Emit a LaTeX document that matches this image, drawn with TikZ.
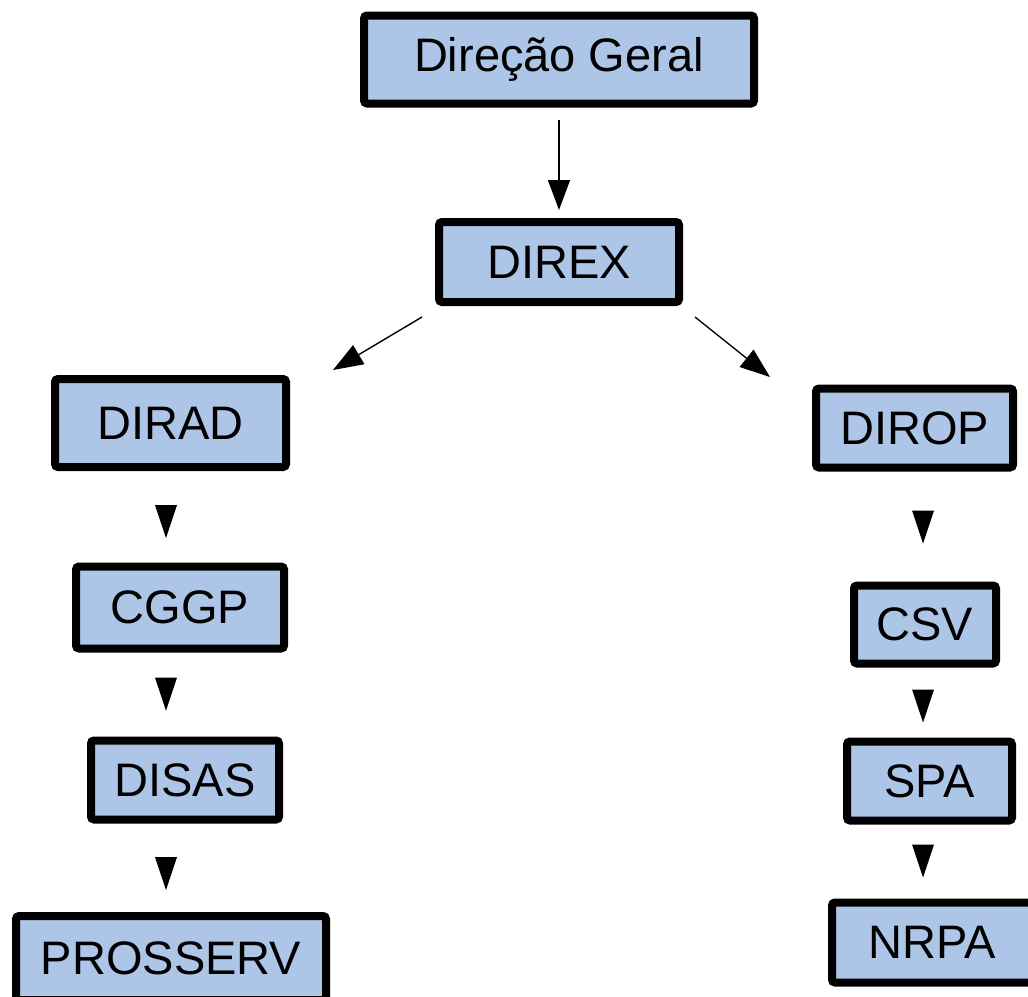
\documentclass[tikz,border=0pt]{standalone}
\usepackage{fontspec}
\setmainfont{Liberation Sans}
\usetikzlibrary{arrows.meta,calc}
\definecolor{boxfill}{HTML}{ADC6E8}
\tikzset{
  orgbox/.style={draw=black, line width=4pt, fill=boxfill, rounded corners=1.5pt,
    inner sep=0pt, font=\fontsize{23.5}{28}\selectfont, text=black},
  boxsize/.style 2 args={minimum width=#1*0.5pt, minimum height=#2*0.5pt},
  conn/.style={line width=0.7pt, -{Triangle[length=15pt,width=11pt]}},
}
\newcommand{\downtri}[1]{\fill[black] ($(#1)+(-11,-16.5)$) -- ++(22,0) -- ++(-11,33) -- cycle;}
\begin{document}
\begin{tikzpicture}[x=0.5pt,y=-0.5pt]
\useasboundingbox (0,0) rectangle (1028,996);
\clip (0,0) rectangle (1028,996);
\node[orgbox, boxsize={390}{88}] (dg) at (559,59.5) {Direção Geral};
\node[orgbox, boxsize={240}{80}] (direx) at (559,262) {DIREX};
\node[orgbox, boxsize={231}{88}] (dirad) at (170.5,423) {DIRAD};
\node[orgbox, boxsize={197}{79}] (dirop) at (914.5,428) {DIROP};
\node[orgbox, boxsize={208}{82}] (cggp) at (180,607.5) {CGGP};
\node[orgbox, boxsize={142}{78}] (csv) at (925,624.5) {CSV};
\node[orgbox, boxsize={188}{79}] (disas) at (185,780) {DISAS};
\node[orgbox, boxsize={165}{79}] (spa) at (929.5,781) {SPA};
\node[orgbox, boxsize={310}{84}] (prosserv) at (171,958) {PROSSERV};
\node[orgbox, boxsize={200}{80}] (nrpa) at (932,942.5) {NRPA};
% connectors
\draw[conn, shorten <=6pt, shorten >=4pt] (dg.south) -- (direx.north);
\coordinate (lstart) at (422,317);
\coordinate (lend) at (333,370);
\coordinate (rstart) at (695,317);
\coordinate (rend) at (770,377);
\draw[conn] (lstart) -- (lend);
\draw[conn] (rstart) -- (rend);
% standalone arrowheads
\coordinate (t1) at (166,521.5);
\coordinate (t2) at (166,694);
\coordinate (t3) at (166,873.5);
\coordinate (t4) at (923,527);
\coordinate (t5) at (923,706);
\coordinate (t6) at (923,861);
\downtri{t1}\downtri{t2}\downtri{t3}\downtri{t4}\downtri{t5}\downtri{t6}
\end{tikzpicture}
\end{document}
